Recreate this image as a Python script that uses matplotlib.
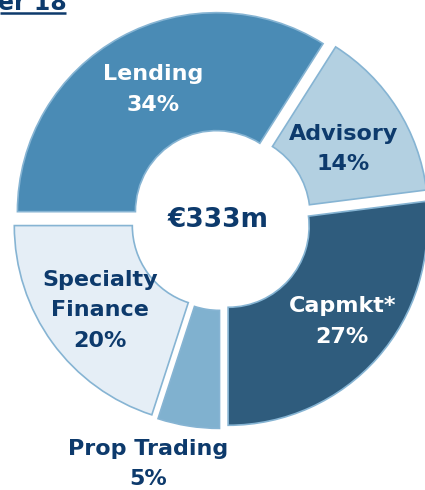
import matplotlib
matplotlib.use("Agg")
import matplotlib.pyplot as plt
import numpy as np

# Revenue split by business line
segments = ["Lending", "Advisory", "Capmkt*", "Prop Trading", "Specialty\nFinance"]
shares = [34, 14, 27, 5, 20]
total_label = "€333m"
title_text = "er 18"

colors = ["#4A8BB5", "#B3D0E1", "#2F5C7D", "#80B1CF", "#E5EEF6"]
text_colors = ["white", "#0D3A6C", "white", "#0D3A6C", "#0D3A6C"]
# small nudges (px) for label placement inside each ring segment
label_nudge = [(6, -4), (-7, -11), (6, 0), (0, 0), (3, 0)]
NAVY = "#0D3A6C"

W, H = 425, 490
fig = plt.figure(figsize=(W / 100, H / 100), dpi=100)
ax = fig.add_axes([0, 0, 1, 1])

cx, cy = 221, H - 220
R, r_in = 199, 81
gap = 9.5

wedges, _ = ax.pie(
    shares,
    colors=colors,
    startangle=180,
    counterclock=False,
    radius=R,
    center=(cx, cy),
    explode=[gap] * len(shares),
    wedgeprops=dict(width=R - r_in, edgecolor="#86B4D3", linewidth=1.2),
    frame=False,
)
ax.set_xlim(0, W)
ax.set_ylim(0, H)
ax.set_aspect("equal")
ax.axis("off")

font = dict(family="DejaVu Sans", weight="bold", fontsize=16, linespacing=1.65)

for w, name, pct, tc, (nx, ny) in zip(wedges, segments, shares, text_colors, label_nudge):
    mid = np.deg2rad((w.theta1 + w.theta2) / 2)
    wx, wy = w.center
    label = f"{name}\n{pct}%"
    if pct < 10:
        # small slice: label sits below the ring
        ax.text(148, H - 464, label, ha="center", va="center", color=NAVY, **font)
    else:
        rr = (R + r_in) / 2 + 4
        ax.text(wx + rr * np.cos(mid) + nx, wy + rr * np.sin(mid) + ny, label,
                ha="center", va="center", color=tc, **font)

ax.text(cx - 3, cy, total_label, ha="center", va="center", color=NAVY,
        family="DejaVu Sans", weight="bold", fontsize=19)

# heading running off the top-left corner, underlined
ax.text(-2, H - 10, title_text, ha="left", va="baseline", color=NAVY,
        family="DejaVu Sans", weight="bold", fontsize=17)
ax.plot([0, 66], [H - 13.5, H - 13.5], color=NAVY, lw=1.8, solid_capstyle="butt")

fig.savefig("out.png", dpi=100)
